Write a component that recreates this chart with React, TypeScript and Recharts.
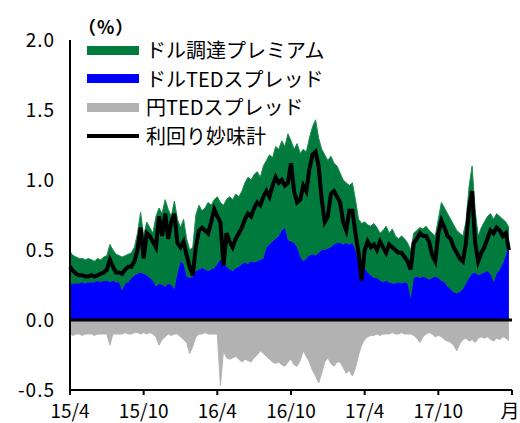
import React from "react";
import {
  ComposedChart,
  Area,
  Line,
  XAxis,
  YAxis,
  ReferenceLine,
} from "recharts";

// weekly readings, Apr 2015 - Mar 2018 (4 per month)
const dollarTed = [
  0.25, 0.26, 0.26, 0.26, 0.27, 0.26, 0.27, 0.27, 0.27, 0.28, 0.27, 0.28,
  0.28, 0.27, 0.28, 0.27, 0.27, 0.21, 0.26, 0.27, 0.3, 0.32, 0.33, 0.34,
  0.33, 0.32, 0.3, 0.28, 0.24, 0.26, 0.25, 0.24, 0.26, 0.25, 0.22, 0.33,
  0.42, 0.4, 0.31, 0.3, 0.31, 0.35, 0.36, 0.37, 0.36, 0.35, 0.36, 0.37,
  0.4, 0.43, 0.41, 0.38, 0.36, 0.35, 0.37, 0.38, 0.4, 0.41, 0.4, 0.42,
  0.41, 0.42, 0.43, 0.44, 0.52, 0.54, 0.56, 0.58, 0.6, 0.64, 0.66, 0.57,
  0.56, 0.55, 0.52, 0.45, 0.42, 0.44, 0.46, 0.47, 0.46, 0.48, 0.5, 0.5,
  0.51, 0.52, 0.54, 0.55, 0.55, 0.54, 0.55, 0.54, 0.55, 0.5, 0.4, 0.38,
  0.37, 0.34, 0.32, 0.3, 0.3, 0.28, 0.27, 0.28, 0.27, 0.26, 0.26, 0.27,
  0.26, 0.27, 0.26, 0.15, 0.3, 0.31, 0.3, 0.31, 0.3, 0.29, 0.3, 0.31,
  0.3, 0.28, 0.27, 0.24, 0.22, 0.2, 0.19, 0.2, 0.22, 0.26, 0.3, 0.33,
  0.34, 0.32, 0.33, 0.34, 0.35, 0.33, 0.27, 0.33, 0.36, 0.4, 0.46, 0.56,
];

const dollarPremium = [
  0.24, 0.2, 0.19, 0.18, 0.17, 0.17, 0.17, 0.16, 0.15, 0.16, 0.16, 0.17,
  0.18, 0.27, 0.22, 0.2, 0.19, 0.24, 0.2, 0.2, 0.18, 0.2, 0.29, 0.43,
  0.27, 0.38, 0.36, 0.34, 0.5, 0.54, 0.51, 0.62, 0.53, 0.49, 0.63, 0.39,
  0.24, 0.32, 0.27, 0.2, 0.21, 0.4, 0.46, 0.41, 0.44, 0.49, 0.46, 0.49,
  0.48, 0.41, 0.41, 0.48, 0.52, 0.51, 0.53, 0.5, 0.52, 0.57, 0.62, 0.58,
  0.63, 0.64, 0.59, 0.66, 0.62, 0.64, 0.6, 0.66, 0.62, 0.64, 0.58, 0.76,
  0.72, 0.67, 0.74, 0.74, 0.8, 0.76, 0.84, 0.91, 0.97, 0.82, 0.72, 0.68,
  0.63, 0.65, 0.58, 0.55, 0.5, 0.46, 0.43, 0.42, 0.43, 0.36, 0.32, 0.31,
  0.33, 0.34, 0.35, 0.39, 0.36, 0.34, 0.37, 0.39, 0.35, 0.39, 0.34, 0.31,
  0.34, 0.31, 0.29, 0.35, 0.32, 0.33, 0.36, 0.34, 0.37, 0.35, 0.32, 0.29,
  0.42, 0.56, 0.53, 0.52, 0.5, 0.48, 0.45, 0.42, 0.38, 0.44, 0.65, 0.77,
  0.44, 0.28, 0.33, 0.36, 0.39, 0.43, 0.45, 0.43, 0.38, 0.32, 0.24, 0.1,
];

const yenTed = [
  -0.1, -0.11, -0.1, -0.1, -0.11, -0.1, -0.1, -0.1, -0.11, -0.1, -0.1, -0.1,
  -0.1, -0.18, -0.1, -0.1, -0.1, -0.1, -0.09, -0.1, -0.1, -0.09, -0.09, -0.1,
  -0.09, -0.1, -0.09, -0.1, -0.12, -0.18, -0.14, -0.12, -0.1, -0.11, -0.1, -0.1,
  -0.12, -0.14, -0.16, -0.24, -0.19, -0.12, -0.1, -0.1, -0.09, -0.1, -0.1, -0.1,
  -0.1, -0.47, -0.22, -0.27, -0.28, -0.27, -0.26, -0.28, -0.3, -0.28, -0.29, -0.3,
  -0.27, -0.25, -0.22, -0.24, -0.26, -0.28, -0.3, -0.31, -0.3, -0.32, -0.33, -0.3,
  -0.28, -0.32, -0.33, -0.29, -0.22, -0.26, -0.3, -0.36, -0.4, -0.45, -0.38, -0.3,
  -0.27, -0.31, -0.33, -0.3, -0.3, -0.34, -0.38, -0.36, -0.4, -0.34, -0.25, -0.18,
  -0.14, -0.12, -0.11, -0.11, -0.1, -0.11, -0.1, -0.1, -0.1, -0.09, -0.1, -0.1,
  -0.09, -0.1, -0.1, -0.1, -0.11, -0.13, -0.16, -0.12, -0.1, -0.09, -0.1, -0.12,
  -0.11, -0.12, -0.14, -0.15, -0.16, -0.18, -0.22, -0.17, -0.14, -0.13, -0.15, -0.14,
  -0.16, -0.13, -0.12, -0.13, -0.12, -0.14, -0.15, -0.13, -0.14, -0.12, -0.13, -0.15,
];

const yieldAppeal = [
  0.38, 0.35, 0.33, 0.32, 0.32, 0.31, 0.31, 0.32, 0.31, 0.32, 0.33, 0.34,
  0.36, 0.43, 0.38, 0.34, 0.34, 0.33, 0.36, 0.38, 0.38, 0.42, 0.5, 0.66,
  0.44, 0.62, 0.6, 0.56, 0.52, 0.74, 0.6, 0.76, 0.58, 0.7, 0.76, 0.55,
  0.52, 0.56, 0.46, 0.38, 0.32, 0.52, 0.64, 0.66, 0.64, 0.62, 0.7, 0.79,
  0.74, 0.7, 0.39, 0.62, 0.56, 0.52, 0.58, 0.62, 0.66, 0.72, 0.76, 0.74,
  0.8, 0.84, 0.82, 0.88, 0.92, 0.88, 0.96, 1.02, 0.98, 1.0, 0.96, 0.98,
  1.12, 0.92, 0.84, 0.86, 0.96, 0.92, 1.08, 1.18, 1.2, 1.1, 0.86, 0.7,
  0.74, 0.9, 0.92, 0.88, 0.84, 0.7, 0.64, 0.78, 0.78, 0.62, 0.48, 0.28,
  0.5, 0.56, 0.52, 0.54, 0.5, 0.56, 0.52, 0.48, 0.54, 0.52, 0.5, 0.48,
  0.48, 0.45, 0.42, 0.36, 0.55, 0.58, 0.62, 0.6, 0.6, 0.56, 0.46, 0.42,
  0.62, 0.71, 0.66, 0.6, 0.58, 0.52, 0.48, 0.44, 0.42, 0.55, 0.8, 0.92,
  0.55, 0.42, 0.48, 0.52, 0.58, 0.64, 0.62, 0.66, 0.64, 0.6, 0.62, 0.5,
];

const xTicks = [0, 24, 48, 72, 96, 120, 144];
const xTickLabels = ["15/4", "15/10", "16/4", "16/10", "17/4", "17/10", "月"];
const yTicks = [-0.5, 0, 0.5, 1.0, 1.5, 2.0];

const legendItems = [
  { name: "ドル調達プレミアム", color: "#007a3d", kind: "bar" },
  { name: "ドルTEDスプレッド", color: "#0000ff", kind: "bar" },
  { name: "円TEDスプレッド", color: "#b2b2b2", kind: "bar" },
  { name: "利回り妙味計", color: "#000000", kind: "line" },
];

const data = dollarTed.map((v, i) => ({
  t: i,
  dollarTed: v,
  dollarPremium: dollarPremium[i],
  yenTed: yenTed[i],
  yieldAppeal: yieldAppeal[i],
}));

const font = '"Noto Sans CJK JP", sans-serif';

// x tick: last label sits flush with the right edge
const XTick = (props: any) => {
  const { x, y, payload } = props;
  const label = xTickLabels[xTicks.indexOf(payload.value)] ?? "";
  const isLast = payload.value === xTicks[xTicks.length - 1];
  return (
    <text
      x={isLast ? x - 2 : x}
      y={y + 21}
      textAnchor="middle"
      fill="#000"
      fontSize={19}
      fontFamily={font}
    >
      {label}
    </text>
  );
};

const App: React.FC = () => {
  return (
    <div
      style={{
        position: "absolute",
        left: 0,
        top: 0,
        width: 520,
        height: 423,
        background: "#fff",
        fontFamily: font,
      }}
    >
      <ComposedChart
        width={520}
        height={423}
        data={data}
        margin={{ top: 40, right: 8, bottom: 0, left: 0 }}
      >
        <XAxis
          type="number"
          dataKey="t"
          domain={[0, 144]}
          ticks={xTicks}
          height={33}
          axisLine={{ stroke: "#000", strokeWidth: 2 }}
          tickLine={{ stroke: "#000", strokeWidth: 2 }}
          tickSize={5}
          tick={<XTick />}
          interval={0}
        />
        <YAxis
          type="number"
          domain={[-0.5, 2.0]}
          ticks={yTicks}
          tickFormatter={(v) => v.toFixed(1)}
          width={70}
          axisLine={{ stroke: "#000", strokeWidth: 2 }}
          tickLine={false}
          tickSize={8}
          tickMargin={7}
          tick={{ fill: "#000", fontSize: 19, fontFamily: font, letterSpacing: 1 }}
          interval={0}
        />
        <Area
          type="linear"
          dataKey="dollarTed"
          stackId="usd"
          fill="#0000ff"
          stroke="#0000ff"
          strokeWidth={1}
          fillOpacity={1}
          isAnimationActive={false}
        />
        <Area
          type="linear"
          dataKey="dollarPremium"
          stackId="usd"
          fill="#007a3d"
          stroke="#1f8a50"
          strokeWidth={1}
          fillOpacity={1}
          isAnimationActive={false}
        />
        <Area
          type="linear"
          dataKey="yenTed"
          fill="#b2b2b2"
          stroke="#b2b2b2"
          strokeWidth={1}
          fillOpacity={1}
          isAnimationActive={false}
        />
        <ReferenceLine y={0} stroke="#000" strokeWidth={3} />
        <Line
          type="linear"
          dataKey="yieldAppeal"
          stroke="#000"
          strokeWidth={4}
          dot={false}
          isAnimationActive={false}
        />
      </ComposedChart>

      {/* unit */}
      <div
        style={{
          position: "absolute",
          left: 78,
          top: 15,
          fontSize: 18,
          fontWeight: 700,
          lineHeight: "22px",
          letterSpacing: 1,
        }}
      >
        （%）
      </div>

      {/* legend */}
      <div style={{ position: "absolute", left: 87, top: 36 }}>
        {legendItems.map((item) => (
          <div
            key={item.name}
            style={{
              display: "flex",
              alignItems: "center",
              height: 28.5,
              fontSize: 20,
              whiteSpace: "nowrap",
            }}
          >
            <div
              style={{
                width: 52,
                height: item.kind === "line" ? 4 : 9,
                background: item.color,
                marginRight: 7,
                flexShrink: 0,
              }}
            />
            <span style={{ lineHeight: "24px" }}>{item.name}</span>
          </div>
        ))}
      </div>
    </div>
  );
};

export default App;
